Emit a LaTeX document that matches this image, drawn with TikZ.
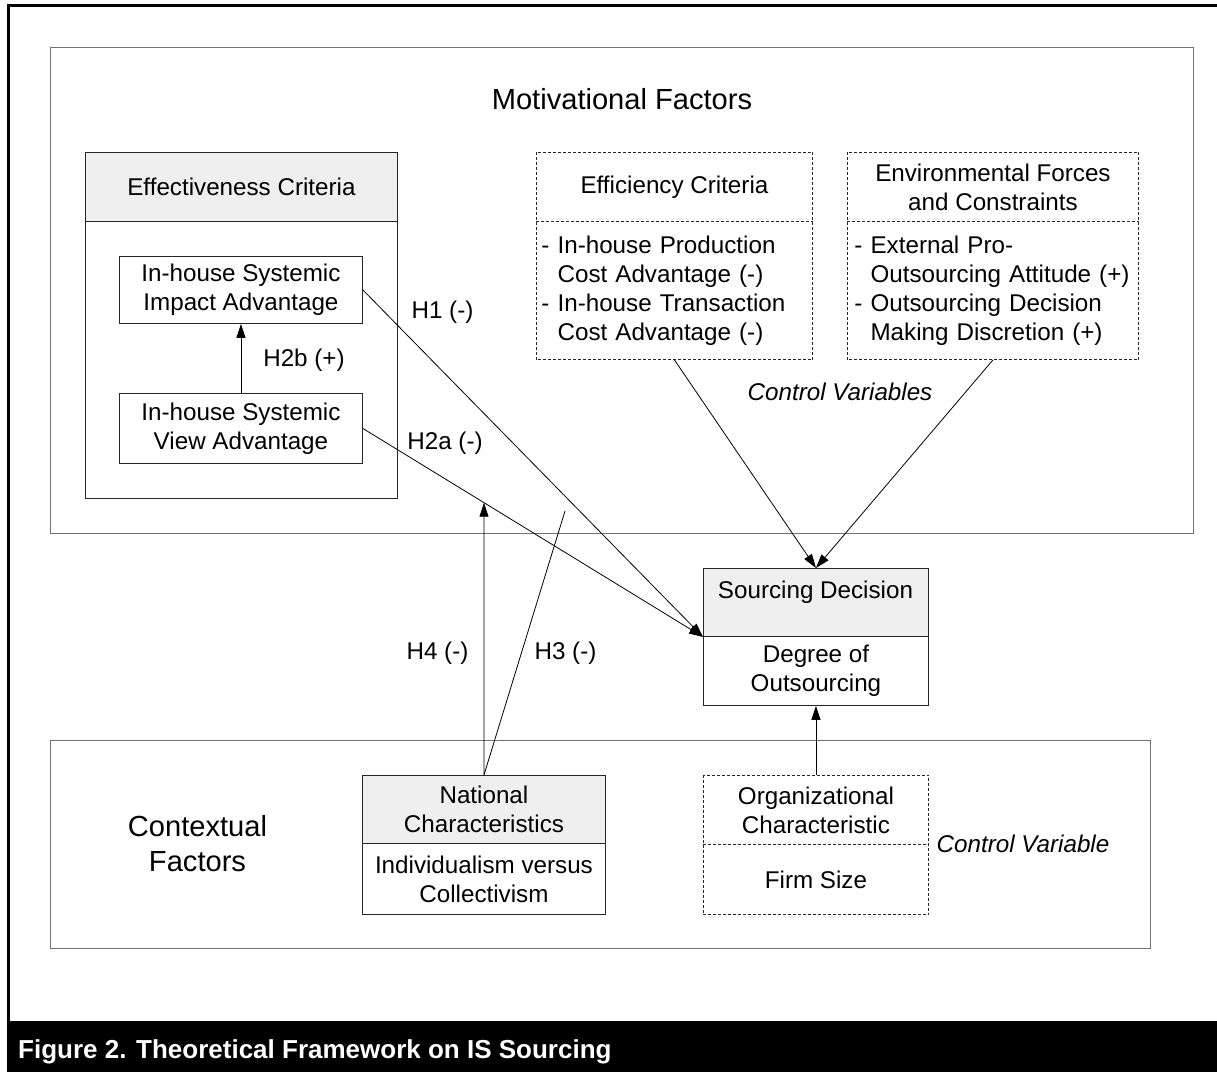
\documentclass[tikz,border=0pt]{standalone}
\usepackage{fontspec}
\setmainfont{Liberation Sans}
\usetikzlibrary{arrows.meta,calc}
\definecolor{headgray}{HTML}{EFEFEF}
\newcommand\bodyfnt{\fontsize{24.2}{29}\selectfont}
\newcommand\bigfnt{\fontsize{29.1}{35}\selectfont}
\newcommand\capfnt{\fontsize{26}{31}\selectfont\bfseries}
\tikzset{
  box/.style={draw=black!85, line width=0.9pt, inner sep=0pt, anchor=north west, align=center, font=\bodyfnt},
  head/.style={box, fill=headgray},
  dbox/.style={box, draw=none},
  dashes/.style={draw=black!85, line width=0.9pt, dash pattern=on 3pt off 2pt},
  frame/.style={draw=black!55, line width=1.3pt, inner sep=0pt, anchor=north west},
  link/.style={draw=black, line width=0.8pt},
  conn/.style={link, -{Triangle[length=14pt,width=9pt]}},
  lbl/.style={font=\bodyfnt, inner sep=0pt},
}
\begin{document}
\begin{tikzpicture}[x=1pt,y=-1pt]
\useasboundingbox (0,0) rectangle (1217,1072);
\fill[white] (0,0) rectangle (1217,1072);
% outer frame and caption band
\draw[line width=3pt] (8,1021) -- (8,5.5) -- (1217,5.5);
\fill[black] (6.5,1021) rectangle (1217,1072);
\node[font=\capfnt, text=white, anchor=base west, inner sep=0pt] (caption) at (18,1058) {Figure 2. Theoretical Framework on IS Sourcing};
% factor frames
\node[frame, minimum width=1143pt, minimum height=486pt] (motiv) at (50,47) {};
\node[frame, minimum width=1100pt, minimum height=208pt] (context) at (50,740) {};
\node[font=\bigfnt, inner sep=0pt] (motivtitle) at (622,99) {Motivational Factors};
\node[font=\bigfnt, align=center, inner sep=0pt] (contexttitle) at (197.5,843.5) {Contextual\\Factors};
% effectiveness
\node[head, minimum width=312pt, minimum height=69pt] (effh) at (85,152) {Effectiveness Criteria};
\node[box, minimum width=312pt, minimum height=277pt] (effb) at (85,221) {};
\node[box, minimum width=243pt, minimum height=67pt] (impact) at (119,256) {In-house Systemic\\Impact Advantage};
\node[box, minimum width=243pt, minimum height=70pt] (view) at (119,393) {In-house Systemic\\View Advantage};
% efficiency (dashed)
\node[dbox, minimum width=276pt, minimum height=69pt] (effich) at (536,152) {Efficiency Criteria};
\node[dbox, minimum width=276pt, minimum height=138pt, text width=266pt, align=left] (efficb) at (536,221) {- In-house Production\\\hphantom{- }Cost Advantage (-)\\- In-house Transaction\\\hphantom{- }Cost Advantage (-)};
\draw[dashes] (effich.north west) rectangle (efficb.south east);
\draw[dashes] (efficb.north west) -- (efficb.north east);
% environmental (dashed)
\node[dbox, minimum width=291pt, minimum height=69pt] (envh) at (847,152) {Environmental Forces\\and Constraints};
\node[dbox, minimum width=291pt, minimum height=138pt, text width=277pt, align=left] (envb) at (847,221) {- External Pro-\\\hphantom{- }Outsourcing Attitude (+)\\- Outsourcing Decision\\\hphantom{- }Making Discretion (+)};
\draw[dashes] (envh.north west) rectangle (envb.south east);
\draw[dashes] (envb.north west) -- (envb.north east);
% sourcing decision
\node[head, minimum width=225pt, minimum height=68pt] (sdh) at (703,568) {};
\node[lbl] (sdtext) at (815.5,592) {Sourcing Decision};
\node[box, minimum width=225pt, minimum height=69pt] (sdb) at (703,636) {Degree of\\Outsourcing};
% organizational (dashed)
\node[dbox, minimum width=225pt, minimum height=69pt] (orgh) at (703,775) {Organizational\\Characteristic};
\node[dbox, minimum width=225pt, minimum height=70pt] (orgb) at (703,844) {Firm Size};
\draw[dashes] (orgh.north west) rectangle (orgb.south east);
\draw[dashes] (orgb.north west) -- (orgb.north east);
% national
\node[head, minimum width=243pt, minimum height=68pt] (nath) at (362,775) {National\\Characteristics};
\node[box, minimum width=243pt, minimum height=71pt] (natb) at (362,843) {Individualism versus\\Collectivism};
% connectors
\draw[conn] (view.north) -- (impact.south);
\draw[conn] (impact.east) -- (sdh.south west);
\draw[conn] (view.east) -- (sdh.south west);
\draw[conn] (efficb.south) -- (sdh.north);
\draw[conn] (envb.south) -- (sdh.north);
\draw[conn] (orgh.north) -- (sdb.south);
\coordinate (h4end) at (intersection of view.east--sdh.south west and nath.north--nath.center);
\draw[conn] (nath.north) -- (h4end);
\coordinate (h3end) at (565,511);
\draw[link] (nath.north) -- (h3end);
% labels
\node[lbl] (h2blbl) at (304,360) {H2b (+)};
\node[lbl] (h1lbl) at (442.5,312) {H1 (-)};
\node[lbl] (h2albl) at (445,443) {H2a (-)};
\node[lbl] (h4lbl) at (437.5,653) {H4 (-)};
\node[lbl] (h3lbl) at (565.5,653) {H3 (-)};
\node[lbl, font=\bodyfnt\itshape] (cv1) at (840,392) {Control Variables};
\node[lbl, font=\bodyfnt\itshape] (cv2) at (1023,844) {Control Variable};
\end{tikzpicture}
\end{document}
